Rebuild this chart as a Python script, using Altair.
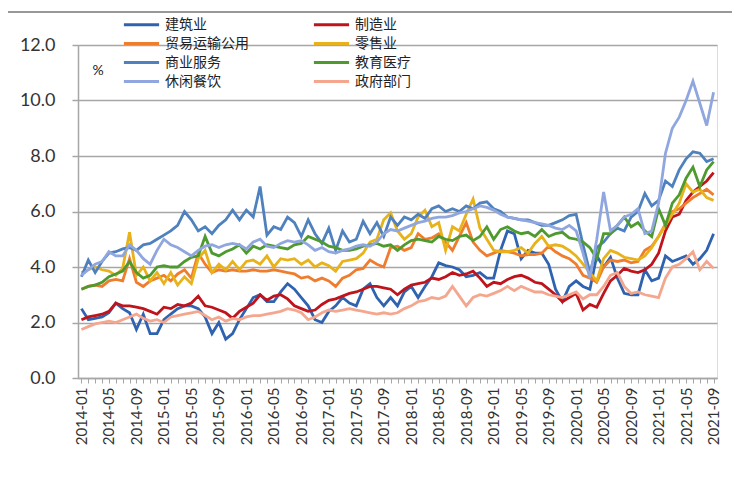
import altair as alt
import pandas as pd

months = [f"{y}-{m:02d}" for y in range(2014, 2022) for m in range(1, 13)][:93]

series_names = ["建筑业", "制造业", "贸易运输公用", "零售业", "商业服务", "教育医疗", "休闲餐饮", "政府部门"]
colors = ["#2F63B0", "#C0141C", "#F07D2E", "#E8B21A", "#4E81BD", "#4E9A2F", "#8FA6DF", "#F4A78E"]

construction = [
    2.5, 2.1, 2.15, 2.2, 2.35, 2.7, 2.5, 2.35, 1.75, 2.3,
    1.6, 1.6, 2.1, 2.3, 2.5, 2.6, 2.6, 2.5, 2.2, 1.6,
    2.0, 1.4, 1.6, 2.1, 2.5, 2.9, 3.0, 2.75, 2.75, 3.1,
    3.4, 3.2, 2.9, 2.6, 2.1, 2.0, 2.4, 2.6, 2.9, 2.7,
    2.6, 3.2, 3.4, 2.9, 2.6, 2.9, 2.6, 3.1, 3.3, 2.9,
    3.3, 3.65, 4.15, 4.05, 4.0, 3.9, 3.65, 3.7, 3.8, 3.6,
    3.6, 4.6, 5.3, 5.2, 4.3, 4.6, 4.5, 4.5, 4.1, 3.2,
    2.75, 3.3, 3.5, 3.3, 3.2, 4.4, 4.0, 4.35, 3.6, 3.05,
    3.0, 3.0, 3.9, 3.5, 3.6, 4.4, 4.2, 4.3, 4.4, 4.1,
    4.3, 4.6, 5.2]

manufacturing = [
    2.1, 2.2, 2.25, 2.3, 2.4, 2.7, 2.6, 2.6, 2.55, 2.5,
    2.4, 2.3, 2.55, 2.5, 2.65, 2.6, 2.7, 2.95, 2.6, 2.55,
    2.45, 2.35, 2.15, 2.4, 2.55, 2.7, 3.0, 2.8, 2.95, 3.0,
    2.85, 2.6, 2.5, 2.4, 2.45, 2.65, 2.8, 2.85, 2.95, 3.05,
    3.1, 3.2, 3.3, 3.3, 3.25, 3.2, 3.0, 3.2, 3.35, 3.4,
    3.45, 3.6, 3.55, 3.65, 3.8, 3.7, 3.75, 3.85, 3.6, 3.3,
    3.45, 3.4, 3.55, 3.65, 3.7, 3.6, 3.45, 3.4, 3.2, 3.0,
    2.75, 2.9, 3.05, 2.45, 2.65, 2.55, 3.05, 3.5, 3.7, 3.95,
    3.85, 3.8, 3.9, 4.1, 4.5, 5.3, 5.8, 5.9, 6.4, 6.7,
    6.9, 7.1, 7.4]

trade = [
    3.2, 3.3, 3.35, 3.3, 3.5, 3.55, 3.5, 4.3, 3.45, 3.3,
    3.5, 3.6, 3.7, 3.5, 3.75, 3.9, 3.6, 4.5, 4.1, 3.8,
    3.9, 3.85, 3.9, 3.85, 3.85, 3.9, 3.85, 3.85, 3.9, 3.85,
    3.8, 3.75, 3.6, 3.65, 3.5, 3.6, 3.5, 3.3, 3.6, 3.7,
    3.9, 3.95, 4.25, 4.1, 4.0, 4.7, 4.75, 4.6, 4.7, 5.2,
    5.0, 5.05, 5.2, 4.9, 4.6, 5.1, 5.6, 4.9, 4.6, 4.4,
    4.5, 4.6, 4.55, 4.5, 4.4, 4.45, 4.45, 4.5, 4.75, 4.55,
    4.4, 4.3, 4.1, 3.7, 3.6, 3.45, 4.0, 4.25, 4.2, 4.25,
    4.15, 4.2, 4.6, 4.75, 5.1, 5.55, 6.0, 6.1, 6.3, 6.5,
    6.65, 6.8, 6.6]

retail = [
    3.8, 3.9, 4.0, 3.9, 3.85, 3.7, 3.95, 5.25, 3.7, 4.0,
    3.5, 3.8, 3.4, 3.8, 3.35, 3.65, 3.4, 4.3, 4.6, 3.8,
    4.1, 3.9, 4.2, 3.9, 4.2, 4.25, 4.1, 4.4, 4.0, 4.3,
    4.25, 4.3, 4.1, 4.25, 4.0, 4.15, 4.05, 3.85, 4.2, 4.25,
    4.3, 4.5, 4.9, 5.0, 5.7, 5.95, 5.3, 5.0, 5.2, 5.8,
    6.05, 5.45, 5.6, 4.6, 5.45, 5.3, 5.9, 6.45, 5.4, 5.0,
    4.6, 4.55, 4.55, 4.6, 4.7, 4.5, 4.85, 5.1, 4.75, 4.8,
    4.75, 4.6, 4.4, 4.1, 3.8, 3.5, 4.3, 4.6, 4.5, 4.35,
    4.3, 4.25, 4.4, 4.7, 5.1, 5.5, 5.9, 6.3, 7.0, 6.7,
    6.8, 6.5, 6.4]

business = [
    3.65, 4.25, 3.8, 4.2, 4.5, 4.55, 4.65, 4.7, 4.6, 4.8,
    4.85, 5.0, 5.15, 5.3, 5.5, 6.0, 5.7, 5.3, 5.45, 5.2,
    5.5, 5.7, 6.05, 5.7, 6.05, 5.8, 6.9, 5.15, 5.45, 5.35,
    5.8, 5.6, 5.1, 5.7, 5.2, 4.85, 5.4, 4.6, 5.3, 4.9,
    5.0, 5.65, 5.2, 5.6, 5.1, 5.8, 5.5, 5.8, 5.7, 5.9,
    5.75, 6.1, 6.2, 6.0, 6.1, 6.0, 6.2, 6.1, 6.3, 6.35,
    6.1, 6.0, 5.8, 5.75, 5.7, 5.7, 5.6, 5.5, 5.5, 5.6,
    5.7, 5.85, 5.9, 4.8, 3.8, 4.7, 4.9, 5.2, 5.4, 5.3,
    5.8, 6.0, 6.65, 6.2, 6.4, 7.1, 6.9, 7.5, 7.9, 8.15,
    8.1, 7.8, 7.9]

education = [
    3.2, 3.3, 3.35, 3.45, 3.65, 3.75, 3.85, 4.2, 3.8, 3.6,
    3.7, 4.0, 4.05, 4.0, 4.0, 4.2, 4.35, 4.4, 5.1, 4.5,
    4.4, 4.55, 4.65, 4.8, 4.5, 4.75, 4.65, 4.8, 4.75, 4.7,
    4.65, 4.8, 4.85, 5.1, 5.0, 4.9, 4.75, 4.7, 4.6, 4.6,
    4.65, 4.75, 4.8, 4.85, 4.75, 4.8, 4.6, 4.8, 4.95, 5.0,
    4.95, 4.9, 5.1, 5.0, 4.95, 5.1, 5.15, 4.95, 5.1, 5.45,
    5.0, 5.35, 5.45, 5.3, 5.2, 5.25, 5.1, 5.35, 5.1, 5.2,
    5.25, 5.05, 5.0, 4.9, 4.7, 4.3, 5.2, 5.2, 5.5, 5.8,
    5.45, 5.6, 5.3, 5.1, 6.1, 5.5, 6.3, 6.6, 7.2, 7.6,
    6.9, 7.5, 7.8]

leisure = [
    3.7, 3.9, 4.1, 4.2, 4.55, 4.4, 4.4, 4.8, 4.6, 4.3,
    4.1, 4.6, 5.0, 4.8, 4.7, 4.55, 4.4, 4.6, 4.75, 4.8,
    4.7, 4.8, 4.85, 4.8, 4.65, 4.9, 5.0, 4.75, 4.7, 4.85,
    4.95, 4.9, 4.95, 4.8, 4.6, 4.7, 4.55, 4.5, 4.6, 4.65,
    4.75, 4.8, 4.75, 4.9, 5.2, 5.35, 5.3, 5.4, 5.5, 5.6,
    5.65, 5.75, 5.8, 5.8, 5.85, 5.95, 6.0, 6.1, 6.2, 6.15,
    6.05, 5.9, 5.8, 5.75, 5.7, 5.65, 5.6, 5.55, 5.5, 5.4,
    5.35, 5.5, 5.3, 4.5, 3.6, 5.0, 6.7, 5.3, 5.5, 5.8,
    5.9, 6.1, 5.2, 5.3, 6.3, 8.1, 9.0, 9.4, 10.0, 10.7,
    9.9, 9.1, 10.3]

government = [
    1.75, 1.85, 1.95, 2.0, 2.05, 2.0, 2.1, 2.2, 2.3, 2.15,
    2.05, 2.1, 2.0, 2.2, 2.25, 2.3, 2.35, 2.4, 2.25, 2.1,
    2.2, 2.05, 2.15, 2.1, 2.2, 2.25, 2.25, 2.3, 2.35, 2.4,
    2.5, 2.45, 2.35, 2.1, 2.2, 2.35, 2.45, 2.4, 2.45, 2.5,
    2.45, 2.4, 2.35, 2.3, 2.35, 2.3, 2.35, 2.5, 2.6, 2.75,
    2.8, 2.9, 2.85, 2.95, 3.3, 2.95, 2.6, 2.9, 3.0, 2.95,
    3.05, 3.15, 3.3, 3.15, 3.3, 3.2, 3.1, 3.1, 3.0, 2.95,
    2.9, 3.0, 3.1, 2.85, 3.0, 3.0, 3.3, 3.7, 3.8, 3.3,
    3.05, 3.1, 3.0, 2.95, 2.9, 3.6, 4.0, 4.1, 4.3, 4.55,
    3.9, 4.2, 3.95]

all_series = [construction, manufacturing, trade, retail, business, education, leisure, government]

rows = []
for name, vals in zip(series_names, all_series):
    for k, (m, v) in enumerate(zip(months, vals)):
        rows.append({"month": m, "value": v, "series": name, "idx": k})
df = pd.DataFrame(rows)

# the legend fills its columns top to bottom, so list the entries column by column
legend_order = [0, 2, 4, 6, 1, 3, 5, 7]
legend_domain = [series_names[i] for i in legend_order]
legend_range = [colors[i] for i in legend_order]

GRID = "#A6A6A6"

lines = alt.Chart(df).mark_line(strokeWidth=2.8, clip=False).encode(
    x=alt.X("month:O", sort=months,
            scale=alt.Scale(type="point", padding=0.5),
            axis=alt.Axis(title=None, labelAngle=-90,
                          labelExpr="(toNumber(substring(datum.value,5,7)) - 1) % 4 == 0 ? datum.value : ''",
                          labelFont="Lato", labelFontSize=15, labelColor="#333333",
                          labelPadding=4, tickSize=5, tickColor=GRID, domainColor=GRID,
                          domainWidth=1.5, grid=False)),
    y=alt.Y("value:Q",
            scale=alt.Scale(domain=[0, 12], nice=False, zero=True),
            axis=alt.Axis(values=[0, 2, 4, 6, 8, 10, 12], format=".1f",
                          labelFont="Lato", labelFontSize=18, labelColor="#333333",
                          labelPadding=17, tickSize=6, tickColor=GRID, tickWidth=1.5,
                          domainColor=GRID, domainWidth=1.5,
                          gridColor=GRID, gridWidth=1.5,
                          title="%", titleAngle=0, titleX=14, titleY=25,
                          titleAlign="left", titleBaseline="middle",
                          titleFont="Lato", titleFontSize=14, titleFontWeight="normal",
                          titleColor="#222222")),
    color=alt.Color("series:N",
                    scale=alt.Scale(domain=legend_domain, range=legend_range),
                    legend=alt.Legend(orient="none", legendX=54, legendY=-30,
                                      columns=2, columnPadding=58, rowPadding=2,
                                      symbolType="M-2.2,0H2.2", symbolSize=256,
                                      symbolStrokeWidth=3, labelOffset=14,
                                      labelFont="Noto Sans CJK SC", labelFontSize=14,
                                      labelColor="#222222", title=None, padding=0)),
    order=alt.Order("idx:Q"),
)

border = alt.Chart(df).mark_rule(color="#999999", strokeWidth=1.5).encode(
    x=alt.value(-70), x2=alt.value(662), y=alt.value(-33)
)

chart = alt.layer(border, lines).properties(
    width=639, height=333,
    autosize=alt.AutoSizeParams(type="none"),
    padding={"left": 70, "top": 37, "right": 15, "bottom": 91},
).configure_view(stroke=None).configure(background="white")

chart.save("out.html", embed_options={"renderer": "svg", "actions": False})
